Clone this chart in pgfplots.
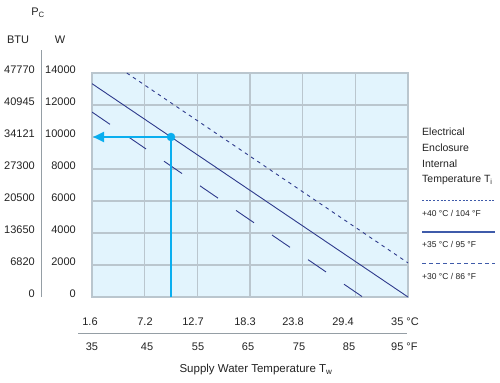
\documentclass[border=0pt]{standalone}
\usepackage{pgfplots}
\pgfplotsset{compat=1.18}
\usepackage{fontspec}
\setmainfont{Liberation Sans}
\usetikzlibrary{arrows.meta}
\definecolor{bgblue}{HTML}{E2F4FD}
\definecolor{gridgray}{HTML}{BAC6CE}
\definecolor{navy}{HTML}{2E3A8C}
\definecolor{legblue}{HTML}{3F5BAA}
\definecolor{cyanarrow}{HTML}{0AAEEF}
\definecolor{txt}{HTML}{222222}
\begin{document}
\begin{tikzpicture}[x=1bp,y=1bp]
\path[use as bounding box] (0,0) rectangle (500,382);
\begin{axis}[
  at={(92bp,85bp)}, anchor=south west,
  scale only axis, width=316bp, height=224bp,
  xmin=35, xmax=95, ymin=0, ymax=14000,
  xtick={35,45,...,95}, ytick={0,2000,...,14000},
  xticklabels={}, yticklabels={},
  scaled x ticks=false, scaled y ticks=false,
  grid=major,
  major grid style={draw=gridgray, line width=1.2bp},
  axis line style={draw=gridgray, line width=1.2bp},
  tick style={draw=none},
  axis background/.style={fill=bgblue},
  clip=true,
]
% +35 C / 95 F (solid)
\addplot[navy, line width=0.9bp] coordinates {(35,13333) (95,0)};
% +40 C / 104 F (dotted)
\addplot[navy, line width=0.9bp, dash pattern=on 3.5bp off 4bp] coordinates {(41.6,14000) (95,2133)};
% +30 C / 86 F (long dashes)
\addplot[navy, line width=0.9bp, dash pattern=on 21.8bp off 21.8bp] coordinates {(35,11560) (86.4,0)};
% reading example
\addplot[cyanarrow, line width=2bp] coordinates {(50,0) (50,10000)};
\addplot[cyanarrow, line width=2bp, -{Triangle[length=11bp,width=10bp]}] coordinates {(50,10000) (35.2,10000)};
\addplot[cyanarrow, only marks, mark=*, mark size=4bp] coordinates {(50,10000)};
\end{axis}
% left axis labels
\draw[gridgray!80!black, line width=0.8bp] (41,85) -- (41,332);
\node[txt, font=\fontsize{11bp}{13bp}\selectfont] at (38,369) {P\textsubscript{C}};
\node[txt, font=\fontsize{11bp}{13bp}\selectfont] at (18,342) {BTU};
\node[txt, font=\fontsize{11bp}{13bp}\selectfont] at (60,342) {W};
\foreach \b/\w [count=\i from 0] in {0/0,6820/2000,13650/4000,20500/6000,27300/8000,34121/10000,40945/12000,47770/14000}{
  \node[txt, anchor=east, inner sep=0pt, font=\fontsize{11bp}{13bp}\selectfont] at (35,88+32*\i) {\b};
  \node[txt, anchor=east, inner sep=0pt, font=\fontsize{11bp}{13bp}\selectfont] at (76,88+32*\i) {\w};
}
% bottom axis labels
\foreach \c/\x in {1.6/90,7.2/145,12.7/193,18.3/245,23.8/293,29.4/343}{
  \node[txt, inner sep=0pt, font=\fontsize{11bp}{13bp}\selectfont] at (\x,60) {\c};
}
\node[txt, anchor=west, inner sep=0pt, font=\fontsize{11bp}{13bp}\selectfont] at (391,60) {35 °C};
\foreach \f/\x in {35/92,45/147,55/198,65/248,75/299,85/349}{
  \node[txt, inner sep=0pt, font=\fontsize{11bp}{13bp}\selectfont] at (\x,35) {\f};
}
\node[txt, anchor=west, inner sep=0pt, font=\fontsize{11bp}{13bp}\selectfont] at (391,35) {95 °F};
\draw[gridgray!80!black, line width=0.8bp] (78,49) -- (407,49);
\node[txt, inner sep=0pt, font=\fontsize{11.5bp}{13bp}\selectfont] at (256,12) {Supply Water Temperature T\textsubscript{w}};
% legend
\foreach \t/\y in {Electrical/250,Enclosure/234,Internal/218}{
  \node[txt, anchor=west, inner sep=0pt, font=\fontsize{10.5bp}{12bp}\selectfont] at (422,\y) {\t};
}
\node[txt, anchor=west, inner sep=0pt, font=\fontsize{10.5bp}{12bp}\selectfont] at (422,202) {Temperature T\textsubscript{i}};
\draw[legblue, line width=0.9bp, dash pattern=on 2bp off 1.7bp] (422,182) -- (495,182);
\node[txt, anchor=west, inner sep=0pt, font=\fontsize{8.5bp}{10bp}\selectfont] at (422,169) {+40 °C / 104 °F};
\draw[legblue, line width=1.3bp] (422,150) -- (495,150);
\node[txt, anchor=west, inner sep=0pt, font=\fontsize{8.5bp}{10bp}\selectfont] at (422,138) {+35 °C / 95 °F};
\draw[legblue, line width=0.9bp, dash pattern=on 4bp off 3bp] (422,119) -- (495,119);
\node[txt, anchor=west, inner sep=0pt, font=\fontsize{8.5bp}{10bp}\selectfont] at (422,106) {+30 °C / 86 °F};
\end{tikzpicture}
\end{document}
